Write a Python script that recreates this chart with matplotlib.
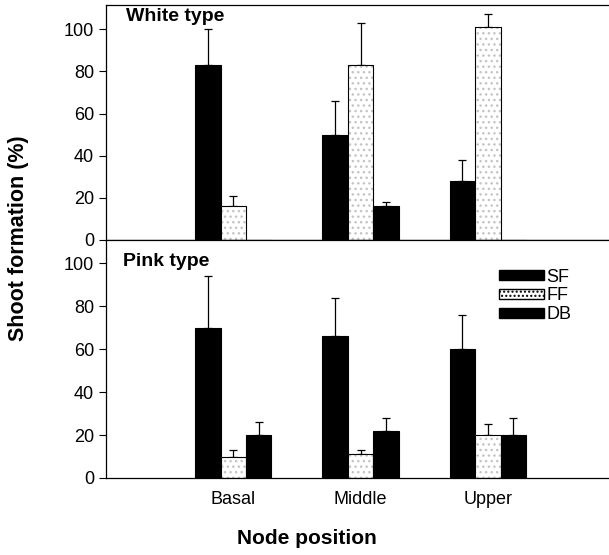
import matplotlib
matplotlib.use("Agg")
import matplotlib.pyplot as plt
from matplotlib.patches import Patch
import numpy as np

plt.rcParams['font.family'] = ['Liberation Sans', 'DejaVu Sans']

positions = ['Basal', 'Middle', 'Upper']
series = ['SF', 'FF', 'DB']

# White type: means and upper error
white_mean = {'SF': [83, 50, 28], 'FF': [16, 83, 101], 'DB': [0, 16, 0]}
white_err = {'SF': [17, 16, 10], 'FF': [5, 20, 6], 'DB': [0, 2, 0]}

# Pink type
pink_mean = {'SF': [70, 66, 60], 'FF': [10, 11, 20], 'DB': [20, 22, 20]}
pink_err = {'SF': [24, 18, 16], 'FF': [3, 2, 5], 'DB': [6, 6, 8]}

fig = plt.figure(figsize=(6.09, 5.55), dpi=100)
ax_top = fig.add_axes([106/609, 1 - 240/555, 1 - 106/609 + 0.01, 235/555])
ax_bot = fig.add_axes([106/609, 1 - 478/555, 1 - 106/609 + 0.01, 238/555])

x = np.arange(1, len(positions) + 1)
w = 0.2


def draw(ax, means, errs):
    for i, s in enumerate(series):
        xs = x + (i - 1) * w
        if s == 'FF':
            ax.bar(xs, means[s], w, color='white', edgecolor='#c4c4c4',
                   hatch='...', linewidth=0, zorder=2)
            ax.bar(xs, means[s], w, fill=False, edgecolor='black',
                   linewidth=0.8, zorder=3)
        else:
            ax.bar(xs, means[s], w, color='black', edgecolor='black',
                   linewidth=0.8, zorder=2)
        m = np.array(means[s])
        e = np.array(errs[s])
        keep = m > 0
        ax.errorbar(xs[keep], m[keep], yerr=[np.zeros(keep.sum()), e[keep]],
                    fmt='none', ecolor='black', elinewidth=0.9, capsize=3,
                    capthick=0.9, zorder=1)
    ax.set_xlim(0, 4)
    ax.set_yticks([0, 20, 40, 60, 80, 100])
    ax.tick_params(axis='y', labelsize=13, direction='out', length=5, width=0.8)
    for sp in ['left', 'bottom', 'top']:
        ax.spines[sp].set_linewidth(0.9)
    ax.spines['right'].set_visible(False)


draw(ax_top, white_mean, white_err)
draw(ax_bot, pink_mean, pink_err)

ax_top.set_ylim(0, 111.5)
ax_bot.set_ylim(0, 110.8)
ax_top.set_xticks([])
ax_bot.set_xticks(x)
ax_bot.set_xticklabels(positions, fontsize=13)
ax_bot.tick_params(axis='x', length=0, pad=9)

ax_top.text(0.04, 0.95, 'White type', transform=ax_top.transAxes,
            fontsize=14, fontweight='bold', va='center', ha='left')
ax_bot.text(0.034, 0.91, 'Pink type', transform=ax_bot.transAxes,
            fontsize=14, fontweight='bold', va='center', ha='left')

handles = [Patch(facecolor='black', edgecolor='black'),
           Patch(facecolor='white', edgecolor='black', hatch='....'),
           Patch(facecolor='black', edgecolor='black')]
ax_bot.legend(handles, series, loc='upper left', bbox_to_anchor=(0.757, 0.91),
              frameon=False, fontsize=13, handlelength=2.5, handleheight=0.45,
              labelspacing=0.1, handletextpad=0.15, borderaxespad=0)

fig.text(307/609, 1 - 538/555, 'Node position', fontsize=15,
         fontweight='bold', ha='center', va='center')
fig.text(19/609, 1 - 238/555, 'Shoot formation (%)', fontsize=15.5,
         fontweight='bold', ha='center', va='center', rotation=90)

fig.savefig('out.png', dpi=100)
